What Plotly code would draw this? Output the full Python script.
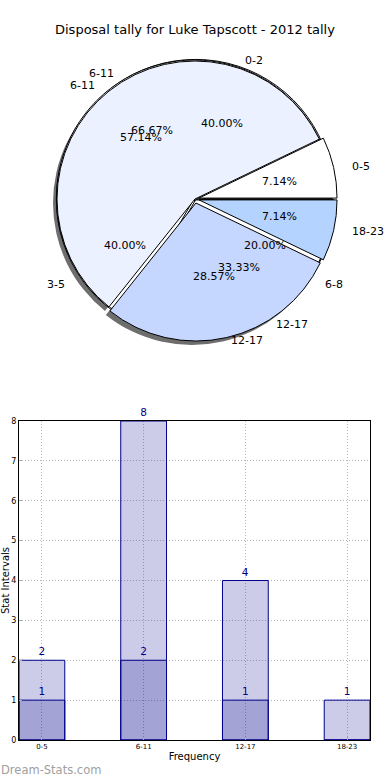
import math
import plotly.graph_objects as go

# ---------------- data ----------------
title_text = "Disposal tally for Luke Tapscott - 2012 tally"

# pie A (the filled pie)
pieA_labels = ["0-5", "6-11", "12-17", "18-23"]
pieA_values = [1, 8, 4, 1]
pieA_colors = ["#ffffff", "#ebf1ff", "#c6d7ff", "#b5d3ff"]
pieA_pull = [0.03, 0.0, 0.03, 0.03]

# pie B (overlaid)
pieB_labels = ["0-2", "3-5", "6-8"]
pieB_values = [2, 2, 1]
pieB_pull = [0.012, 0.006, 0.012]

# pie C (overlaid)
pieC_labels = ["6-11", "12-17"]
pieC_values = [2, 1]
pieC_pull = [0.008, 0.008]

# bar chart
bar_categories = ["0-5", "6-11", "12-17", "18-23"]
bar_light = [2, 8, 4, 1]
bar_dark = [1, 2, 1, 0]
y_ticks = [0, 1, 2, 3, 4, 5, 6, 7, 8]

# ---------------- layout helpers ----------------
FW, FH = 390, 780


def px_x(X):
    return X / FW


def px_y(Y):
    return 1 - Y / FH


CX, CY, R = 195, 199, 138      # pie centre / radius in px
RX, RY = 145, 132              # text ellipse (matplotlib axes aspect)


def pie_domain(pulls, dx=0, dy=0):
    half = R * (1 + max(pulls))
    return dict(x=[px_x(CX + dx - half), px_x(CX + dx + half)],
                y=[px_y(CY + dy + half), px_y(CY + dy - half)])


def start_rotation(values):
    # first slice starts at 3 o'clock and runs counter-clockwise
    return 90 - 360 * values[0] / sum(values)


def pie_trace(labels, values, pulls, colors, line, dx=0, dy=0):
    return go.Pie(
        labels=labels, values=values, pull=pulls,
        domain=pie_domain(pulls, dx, dy),
        marker=dict(colors=colors, line=line),
        textinfo="none", sort=False, direction="counterclockwise",
        rotation=start_rotation(values), hoverinfo="skip", showlegend=False)


fig = go.Figure()

black_line = dict(color="#000000", width=1)
# shadow
fig.add_trace(pie_trace(pieA_labels, pieA_values, pieA_pull,
                        ["#6e6e6e"] * len(pieA_values), dict(width=0), dx=-4, dy=4))
# background pies (outlines peeking out)
fig.add_trace(pie_trace(pieB_labels, pieB_values, pieB_pull,
                        ["#ffffff"] * len(pieB_values), black_line))
fig.add_trace(pie_trace(pieC_labels, pieC_values, pieC_pull,
                        ["#ffffff"] * len(pieC_values), black_line))
# main pie
fig.add_trace(pie_trace(pieA_labels, pieA_values, pieA_pull,
                        pieA_colors, black_line))

# ---------------- pie texts (labels at 1.1 r, percentages at 0.6 r) ----------------
txtfont = dict(family="DejaVu Sans", size=11, color="#000000")
annotations = []
for labels, values in [(pieA_labels, pieA_values),
                       (pieB_labels, pieB_values),
                       (pieC_labels, pieC_values)]:
    total = sum(values)
    cum = 0
    for lab, v in zip(labels, values):
        mid = math.radians(360 * (cum + v / 2) / total)
        cum += v
        c, s = math.cos(mid), math.sin(mid)
        annotations.append(dict(
            text=lab, xref="paper", yref="paper",
            x=px_x(CX + 1.1 * RX * c), y=px_y(CY - 1.1 * RY * s),
            xanchor="left" if c > 0 else "right", yanchor="middle",
            showarrow=False, font=txtfont, borderpad=0))
        annotations.append(dict(
            text=f"{100 * v / total:.2f}%", xref="paper", yref="paper",
            x=px_x(CX + 0.6 * RX * c), y=px_y(CY - 0.6 * RY * s),
            xanchor="center", yanchor="middle",
            showarrow=False, font=txtfont, borderpad=0))

annotations.append(dict(text="Dream-Stats.com", xref="paper", yref="paper",
                        x=0, y=px_y(770), xanchor="left", yanchor="middle",
                        showarrow=False, borderpad=0,
                        font=dict(family="DejaVu Sans", size=11.5, color="#a0a0a0")))
annotations.append(dict(text=title_text, xref="paper", yref="paper",
                        x=px_x(195), y=px_y(30), xanchor="center", yanchor="middle",
                        showarrow=False, borderpad=0,
                        font=dict(family="DejaVu Sans", size=13, color="#000000")))

# ---------------- bar chart ----------------
navy = "#00008b"
bar_fill = "rgba(0,0,139,0.2)"
for vals in (bar_light, bar_dark):
    fig.add_trace(go.Bar(
        x=bar_categories, y=vals, width=0.45,
        marker=dict(color=bar_fill, line=dict(color=navy, width=1)),
        text=[str(v) if v else "" for v in vals], textposition="outside",
        textfont=dict(family="DejaVu Sans", size=10.5, color=navy),
        cliponaxis=False, showlegend=False, hoverinfo="skip",
        xaxis="x", yaxis="y"))

grid = dict(showgrid=True, gridcolor="#b8b8b8", griddash="1px,2px", gridwidth=1)
frame = dict(showline=True, mirror=True, linecolor="#000000", linewidth=1,
             automargin=False, ticks="inside", ticklen=3, tickcolor="#aaaaaa")

fig.update_layout(
    width=FW, height=FH,
    margin=dict(l=0, r=0, t=0, b=0),
    paper_bgcolor="#ffffff", plot_bgcolor="rgba(0,0,0,0)",
    font=dict(family="DejaVu Sans", color="#000000"),
    barmode="overlay",
    xaxis=dict(domain=[px_x(19), px_x(370)], range=[-0.225, 3.225],
               tickfont=dict(family="DejaVu Sans", size=7, color="#000000"),
               title=dict(text="Frequency", standoff=2,
                          font=dict(family="DejaVu Sans", size=10)),
               **grid, **frame),
    yaxis=dict(domain=[px_y(740), px_y(421)], range=[0, 8],
               tickvals=y_ticks, zeroline=False,
               tickfont=dict(family="DejaVu Sans", size=8, color="#000000"),
               title=dict(text="Stat Intervals", standoff=0,
                          font=dict(family="DejaVu Sans", size=10)),
               **grid, **frame),
    annotations=annotations,
)

# remove the browser's default 8px body margin so the figure fills the window
fig.write_html("out.html",
               config={"displayModeBar": False},
               post_script="document.body.style.margin='0';")
